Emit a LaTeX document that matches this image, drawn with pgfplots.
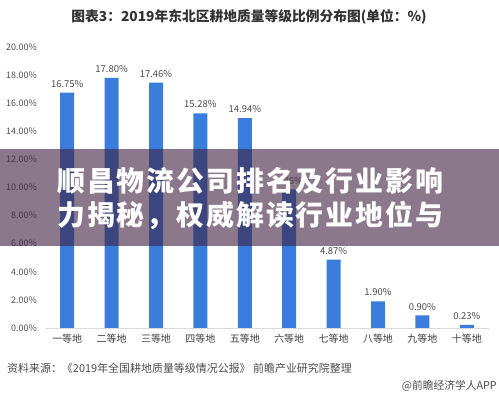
\documentclass[border=0pt]{standalone}
\usepackage{fontspec}
\setmainfont{Noto Sans CJK SC}
\usepackage{pgfplots}
\pgfplotsset{compat=1.18}
\definecolor{barblue}{RGB}{59,125,221}
\definecolor{bandc}{RGB}{62,33,62}
\definecolor{txtgray}{RGB}{80,80,80}
\begin{document}
\begin{tikzpicture}
\path[use as bounding box] (0,0) rectangle (499bp,397bp);
\fill[white] (0,0) rectangle (499bp,397bp);
\begin{axis}[
  at={(45bp,69bp)}, anchor=south west,
  scale only axis, width=444bp, height=281bp,
  xmin=-0.5, xmax=9.5, ymin=0, ymax=20,
  xtick=data,
  xticklabels={一等地,二等地,三等地,四等地,五等地,六等地,七等地,八等地,九等地,十等地},
  ytick={0,2,...,20},
  /pgf/number format/assume math mode=true,
  yticklabel={\pgfmathprintnumber[fixed,fixed zerofill,precision=2]{\tick}\%},
  axis x line*=bottom, axis y line*=left,
  x axis line style={draw=black!15,-},
  y axis line style={draw=none},
  major tick length=0pt,
  yticklabel style={anchor=east, inner sep=0pt, xshift=-8bp, font=\fontsize{9}{10}\selectfont, text=txtgray},
  xticklabel style={anchor=north, inner sep=0pt, yshift=-6bp, font=\fontsize{10}{11}\selectfont, text=black!75},
  ybar, bar width=14bp,
  nodes near coords={\pgfmathprintnumber[fixed,fixed zerofill,precision=2]{\pgfplotspointmeta}\%},
  nodes near coords style={font=\fontsize{9.5}{10}\selectfont, text=black!70, inner sep=0pt, anchor=south, yshift=5bp},
  clip=false,
]
\addplot[fill=barblue, draw=none] coordinates {
(0,16.75) (1,17.80) (2,17.46) (3,15.28) (4,14.94) (5,9.86) (6,4.87) (7,1.90) (8,0.90) (9,0.23)};
\end{axis}
\node[font=\bfseries\fontsize{13.8}{15}\selectfont, text=black!80] at (249bp,380bp) {图表3：2019年东北区耕地质量等级比例分布图(单位：\%)};
\node[anchor=west, inner sep=0pt, font=\fontsize{11}{12}\selectfont, text=black!70] at (7bp,29bp) {资料来源：《2019年全国耕地质量等级情况公报》 前瞻产业研究院整理};
\node[anchor=east, inner sep=0pt, font=\fontsize{10.8}{12}\selectfont, text=black!70] at (497bp,11bp) {@前瞻经济学人APP};
\fill[bandc, opacity=0.6] (0,151bp) rectangle (499bp,248bp);
\node[anchor=west, inner sep=0pt, text=white, font=\bfseries\fontsize{28}{30}\selectfont\addfontfeature{LetterSpace=7}] at (57bp,216bp) {顺昌物流公司排名及行业影响};
\node[anchor=west, inner sep=0pt, text=white, font=\bfseries\fontsize{28}{30}\selectfont\addfontfeature{LetterSpace=7}] at (57bp,182bp) {力揭秘，权威解读行业地位与};
\end{tikzpicture}
\end{document}
